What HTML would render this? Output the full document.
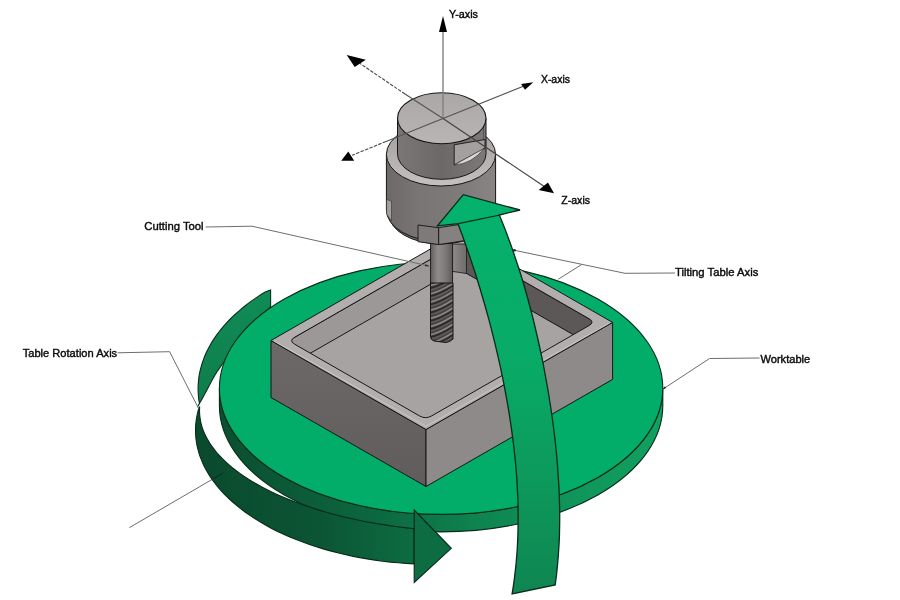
<!DOCTYPE html>
<html><head><meta charset="utf-8"><style>
html,body{margin:0;padding:0;background:#fff;width:900px;height:600px;overflow:hidden}
svg{display:block}
text{font-family:"Liberation Sans",sans-serif;font-size:11px;fill:#0a0a0a;stroke:#0a0a0a;stroke-width:0.4px}
</style></head><body>
<svg width="900" height="600" viewBox="0 0 900 600"><defs>
<linearGradient id="gDiscSide" x1="220" y1="0" x2="662" y2="0" gradientUnits="userSpaceOnUse">
 <stop offset="0" stop-color="#0a4f30"/><stop offset="0.35" stop-color="#0c673e"/><stop offset="0.6" stop-color="#0f8551"/><stop offset="0.8" stop-color="#10955a"/><stop offset="1" stop-color="#11a060"/>
</linearGradient>
<linearGradient id="gBandBack" x1="0" y1="290" x2="0" y2="408" gradientUnits="userSpaceOnUse">
 <stop offset="0" stop-color="#118c56"/><stop offset="1" stop-color="#0e7c4b"/>
</linearGradient>
<linearGradient id="gBandFront" x1="195" y1="0" x2="415" y2="0" gradientUnits="userSpaceOnUse">
 <stop offset="0" stop-color="#0a4a2d"/><stop offset="0.55" stop-color="#0b5434"/><stop offset="1" stop-color="#0d6c41"/>
</linearGradient>
<linearGradient id="gTilt" x1="0" y1="195" x2="0" y2="595" gradientUnits="userSpaceOnUse">
 <stop offset="0" stop-color="#04b26d"/><stop offset="0.4" stop-color="#08ab67"/><stop offset="0.7" stop-color="#0d9a5c"/><stop offset="1" stop-color="#0f8551"/>
</linearGradient>
<linearGradient id="gCyl" x1="386" y1="0" x2="496" y2="0" gradientUnits="userSpaceOnUse">
 <stop offset="0" stop-color="#6c6968"/><stop offset="0.3" stop-color="#787574"/><stop offset="0.7" stop-color="#7e7b7a"/><stop offset="1" stop-color="#888584"/>
</linearGradient>
<linearGradient id="gCapSide" x1="397" y1="0" x2="486" y2="0" gradientUnits="userSpaceOnUse">
 <stop offset="0" stop-color="#7a7776"/><stop offset="0.5" stop-color="#6b6867"/><stop offset="1" stop-color="#7c7978"/>
</linearGradient>
<linearGradient id="gRing" x1="0" y1="122" x2="0" y2="186" gradientUnits="userSpaceOnUse">
 <stop offset="0" stop-color="#9d9a99"/><stop offset="1" stop-color="#c4c1c0"/>
</linearGradient>
<linearGradient id="gCapTop" x1="0" y1="93" x2="0" y2="144" gradientUnits="userSpaceOnUse">
 <stop offset="0" stop-color="#aaa7a6"/><stop offset="1" stop-color="#b8b5b4"/>
</linearGradient>
<linearGradient id="gShank" x1="430" y1="0" x2="453" y2="0" gradientUnits="userSpaceOnUse">
 <stop offset="0" stop-color="#5e5b5a"/><stop offset="0.35" stop-color="#8f8c8b"/><stop offset="0.7" stop-color="#7a7776"/><stop offset="1" stop-color="#5a5756"/>
</linearGradient>
<linearGradient id="gLeftFace" x1="0" y1="340" x2="0" y2="487" gradientUnits="userSpaceOnUse">
 <stop offset="0" stop-color="#6c6968"/><stop offset="1" stop-color="#5f5c5b"/>
</linearGradient>
<clipPath id="cInner"><path d="M294.6,337.3 Q288.6,340.7 294.6,344.2 L419.5,415.9 Q425.6,419.4 431.7,415.9 L589.0,325.6 Q595.0,322.2 589.0,318.7 L464.1,247.0 Q458.0,243.5 451.9,247.0 Z"/></clipPath>
<clipPath id="cFlute"><path d="M430.5,283 L453,283 L453,339 Q450,342 446,342.5 L434,341 Q430.5,340 430.5,336 Z"/></clipPath>
</defs><rect width="900" height="600" fill="#fff"/>
<path d="M270.6,290.0 L265.7,291.7 L261.9,294.0 L258.2,296.4 L254.6,298.9 L251.0,301.4 L247.6,303.9 L244.3,306.5 L241.1,309.1 L238.0,311.8 L235.0,314.5 L232.1,317.2 L229.3,320.0 L226.6,322.8 L224.1,325.7 L221.6,328.6 L219.3,331.5 L217.1,334.4 L215.0,337.4 L213.0,340.4 L211.2,343.4 L209.4,346.5 L207.8,349.5 L206.3,352.6 L204.9,355.8 L203.7,358.9 L202.6,362.0 L201.6,365.2 L200.7,368.4 L199.9,371.5 L199.3,374.7 L198.8,377.9 L198.5,381.1 L198.2,384.4 L198.1,387.6 L198.1,390.8 L198.3,394.0 L198.5,397.2 L198.9,400.4 L199.5,403.6 L197.3,407.0 L197.3,407.0 C198.3,405.3 200.4,402.0 203.3,396.7 C206.2,391.4 211.6,380.8 215.0,375.0 C218.4,369.2 220.5,367.0 224.0,361.7 C227.5,356.4 231.3,349.1 236.0,343.0 C240.7,336.9 246.2,331.0 252.0,325.0 C257.8,319.0 267.5,310.0 270.6,307.0 Z" fill="url(#gBandBack)" stroke="#082d1b" stroke-width="1.1"/>
<polyline points="129.4,527.6 213.4,478.7 222,473.5" fill="none" stroke="#6e6e6e" stroke-width="1"/>
<path d="M219.40000000000003,388.2 L219.40000000000003,405.7 A221.7,126.2 0 0 0 662.8,405.7 L662.8,388.2 A221.7,126.2 0 0 1 219.40000000000003,388.2 Z" fill="url(#gDiscSide)" stroke="#072c1a" stroke-width="1.1"/>
<ellipse cx="441.1" cy="388.2" rx="221.7" ry="126.2" fill="#02ad6a" stroke="#072c1a" stroke-width="1.1"/>
<line x1="558.3" y1="279.2" x2="581.7" y2="264.5" stroke="#6e6e6e" stroke-width="1"/>
<polygon points="271.0,340.5 426.0,429.5 426.0,486.5 271.0,397.5" fill="url(#gLeftFace)" stroke="#161616" stroke-width="1"/>
<polygon points="426.0,429.5 612.6,322.4 612.6,379.4 426.0,486.5" fill="#8e8a89" stroke="#161616" stroke-width="1"/>
<polygon points="271.0,340.5 426.0,429.5 612.6,322.4 457.6,233.4" fill="#b2aead" stroke="#161616" stroke-width="1"/>
<g clip-path="url(#cInner)"><polygon points="288.6,340.7 425.6,419.4 595.0,322.2 458.0,243.5" fill="#a7a3a2"/><polygon points="288.6,340.7 458.0,243.5 458.0,268.5 288.6,365.7" fill="#9c9897" stroke="#161616" stroke-width="1"/><path d="M458.0,249.5 Q458.0,243.5 463.2,246.5 L589.8,319.2 Q595.0,322.2 595.0,328.2 L595.0,341.2 Q595.0,347.2 589.8,344.2 L463.2,271.5 Q458.0,268.5 458.0,262.5 Z" fill="#5c5857" stroke="#161616" stroke-width="1"/></g>
<path d="M294.6,337.3 Q288.6,340.7 294.6,344.2 L419.5,415.9 Q425.6,419.4 431.7,415.9 L589.0,325.6 Q595.0,322.2 589.0,318.7 L464.1,247.0 Q458.0,243.5 451.9,247.0 Z" fill="none" stroke="#161616" stroke-width="1"/>
<polyline points="274.0,341.0 426.0,426.3 609.6,322.9" fill="none" stroke="#c9c6c5" stroke-width="1"/>
<linearGradient id="gFil" x1="452" y1="0" x2="467" y2="0" gradientUnits="userSpaceOnUse"><stop offset="0" stop-color="#8e8b8a"/><stop offset="1" stop-color="#6d6a69"/></linearGradient>
<polygon points="450,244 466.5,244 466.5,273.5 450,271" fill="url(#gFil)" stroke="#161616" stroke-width="0.8"/>
<rect x="430.6" y="240" width="22" height="44" fill="url(#gShank)" stroke="#161616" stroke-width="0.9"/>
<g clip-path="url(#cFlute)"><rect x="428" y="280" width="28" height="66" fill="#444141"/><path d="M429,285.8 C436,284.8 446,279.8 455,273.8" stroke="#8a8786" stroke-width="1.7" fill="none"/><path d="M429,288.3 C436,287.3 446,282.3 455,276.3" stroke="#2a2727" stroke-width="1.3" fill="none"/><path d="M429,290.3 C436,289.3 446,284.3 455,278.3" stroke="#5f5c5b" stroke-width="1.6" fill="none"/><path d="M429,294.0 C436,293.0 446,288.0 455,282.0" stroke="#8a8786" stroke-width="1.7" fill="none"/><path d="M429,296.5 C436,295.5 446,290.5 455,284.5" stroke="#2a2727" stroke-width="1.3" fill="none"/><path d="M429,298.5 C436,297.5 446,292.5 455,286.5" stroke="#5f5c5b" stroke-width="1.6" fill="none"/><path d="M429,302.2 C436,301.2 446,296.2 455,290.2" stroke="#8a8786" stroke-width="1.7" fill="none"/><path d="M429,304.7 C436,303.7 446,298.7 455,292.7" stroke="#2a2727" stroke-width="1.3" fill="none"/><path d="M429,306.7 C436,305.7 446,300.7 455,294.7" stroke="#5f5c5b" stroke-width="1.6" fill="none"/><path d="M429,310.4 C436,309.4 446,304.4 455,298.4" stroke="#8a8786" stroke-width="1.7" fill="none"/><path d="M429,312.9 C436,311.9 446,306.9 455,300.9" stroke="#2a2727" stroke-width="1.3" fill="none"/><path d="M429,314.9 C436,313.9 446,308.9 455,302.9" stroke="#5f5c5b" stroke-width="1.6" fill="none"/><path d="M429,318.6 C436,317.6 446,312.6 455,306.6" stroke="#8a8786" stroke-width="1.7" fill="none"/><path d="M429,321.1 C436,320.1 446,315.1 455,309.1" stroke="#2a2727" stroke-width="1.3" fill="none"/><path d="M429,323.1 C436,322.1 446,317.1 455,311.1" stroke="#5f5c5b" stroke-width="1.6" fill="none"/><path d="M429,326.8 C436,325.8 446,320.8 455,314.8" stroke="#8a8786" stroke-width="1.7" fill="none"/><path d="M429,329.3 C436,328.3 446,323.3 455,317.3" stroke="#2a2727" stroke-width="1.3" fill="none"/><path d="M429,331.3 C436,330.3 446,325.3 455,319.3" stroke="#5f5c5b" stroke-width="1.6" fill="none"/><path d="M429,335.0 C436,334.0 446,329.0 455,323.0" stroke="#8a8786" stroke-width="1.7" fill="none"/><path d="M429,337.5 C436,336.5 446,331.5 455,325.5" stroke="#2a2727" stroke-width="1.3" fill="none"/><path d="M429,339.5 C436,338.5 446,333.5 455,327.5" stroke="#5f5c5b" stroke-width="1.6" fill="none"/><path d="M429,343.2 C436,342.2 446,337.2 455,331.2" stroke="#8a8786" stroke-width="1.7" fill="none"/><path d="M429,345.7 C436,344.7 446,339.7 455,333.7" stroke="#2a2727" stroke-width="1.3" fill="none"/><path d="M429,347.7 C436,346.7 446,341.7 455,335.7" stroke="#5f5c5b" stroke-width="1.6" fill="none"/><path d="M429,351.4 C436,350.4 446,345.4 455,339.4" stroke="#8a8786" stroke-width="1.7" fill="none"/><path d="M429,353.9 C436,352.9 446,347.9 455,341.9" stroke="#2a2727" stroke-width="1.3" fill="none"/><path d="M429,355.9 C436,354.9 446,349.9 455,343.9" stroke="#5f5c5b" stroke-width="1.6" fill="none"/><path d="M429,359.6 C436,358.6 446,353.6 455,347.6" stroke="#8a8786" stroke-width="1.7" fill="none"/><path d="M429,362.1 C436,361.1 446,356.1 455,350.1" stroke="#2a2727" stroke-width="1.3" fill="none"/><path d="M429,364.1 C436,363.1 446,358.1 455,352.1" stroke="#5f5c5b" stroke-width="1.6" fill="none"/></g>
<path d="M430.5,283 L453,283 L453,339 Q450,342 446,342.5 L434,341 Q430.5,340 430.5,336 Z" fill="none" stroke="#161616" stroke-width="1"/>
<path d="M389,214 A52,30 0 0 0 493,214 L493,205 L389,205 Z" fill="#6f6c6b" stroke="#161616" stroke-width="1"/>
<path d="M386.4,154.4 L386.4,210 A54.6,31.6 0 0 0 495.6,210 L495.6,154.4 Z" fill="url(#gCyl)" stroke="#161616" stroke-width="1"/>
<polygon points="386.6,199.5 391.5,201 391.5,221 386.6,214" fill="#a19e9d" stroke="#333" stroke-width="0.6"/>
<polygon points="418,225 438.7,227.7 438.7,244.6 418,241.7" fill="#7d7a79" stroke="#161616" stroke-width="0.9"/>
<polygon points="438.7,227.7 475,222 475,239 438.7,244.6" fill="#858180" stroke="#161616" stroke-width="0.9"/>
<ellipse cx="441" cy="154.4" rx="54.6" ry="31.6" fill="url(#gRing)" stroke="#161616" stroke-width="1"/>
<path d="M397.5,118.2 L397.5,153.8 A44.25,25.5 0 0 0 486,153.8 L486,118.2 Z" fill="url(#gCapSide)" stroke="#161616" stroke-width="1"/>
<line x1="483.5" y1="122" x2="483.5" y2="147" stroke="#444" stroke-width="0.7"/>
<polygon points="454.2,144.8 485,139.5 485,148.3 454.2,165" fill="#a3a09f" stroke="#161616" stroke-width="0.9"/>
<path d="M454.2,165 L484.2,148.3 Q472,164 454.2,165 Z" fill="#dcdad9" stroke="#333" stroke-width="0.7"/>
<ellipse cx="441.75" cy="118.2" rx="44.25" ry="25.5" fill="url(#gCapTop)" stroke="#161616" stroke-width="1.1"/>
<path d="M199.1,407.2 L197.9,411.6 L196.9,416.0 L196.2,420.4 L195.7,424.8 L195.5,429.3 L195.6,433.7 L195.9,438.1 L196.5,442.6 L197.3,447.0 L198.5,451.4 L199.8,455.8 L201.5,460.1 L203.3,464.4 L205.5,468.7 L207.9,472.9 L210.5,477.1 L213.4,481.2 L216.6,485.3 L219.9,489.3 L223.5,493.3 L227.4,497.2 L231.5,501.0 L235.7,504.7 L240.3,508.4 L245.0,512.0 L249.9,515.4 L255.1,518.8 L260.4,522.1 L265.9,525.3 L271.6,528.4 L277.5,531.4 L283.6,534.2 L289.8,537.0 L296.2,539.6 L302.8,542.1 L309.5,544.5 L316.3,546.8 L323.3,548.9 L330.3,550.9 L337.5,552.8 L344.8,554.5 L352.2,556.1 L359.7,557.6 L367.3,558.9 L375.0,560.1 L382.7,561.2 L390.5,562.1 L398.3,562.8 L406.2,563.4 L414.1,563.9 L414.1,528.8 L406.7,527.9 L399.4,527.0 L392.1,526.0 L384.8,524.9 L377.7,523.8 L370.6,522.5 L363.6,521.2 L356.7,519.8 L349.9,518.3 L343.1,516.7 L336.5,515.0 L330.0,513.3 L323.6,511.5 L317.3,509.6 L311.1,507.6 L305.1,505.6 L299.2,503.5 L293.4,501.3 L287.8,499.1 L282.3,496.8 L276.9,494.4 L271.7,492.0 L266.7,489.5 L261.8,486.9 L257.1,484.3 L252.5,481.7 L248.1,479.0 L243.9,476.2 L239.9,473.4 L236.0,470.5 L232.3,467.6 L228.8,464.7 L225.5,461.7 L222.4,458.7 L219.5,455.6 L216.7,452.5 L214.2,449.4 L211.8,446.2 L209.7,443.1 L207.8,439.9 L206.0,436.6 L204.5,433.4 L203.1,430.1 L202.0,426.9 L201.1,423.6 L200.4,420.3 L199.9,417.0 L199.6,413.7 L199.5,410.3 L199.6,407.0 Z" fill="url(#gBandFront)" stroke="#072a19" stroke-width="1.1"/>
<polygon points="414.2,510 451.3,548.3 414.2,582.5" fill="#0d6c41" stroke="#072a19" stroke-width="1.1"/>
<path d="M458.0,223.7 L460.2,229.7 L462.5,235.7 L464.6,241.7 L466.7,247.7 L468.8,253.7 L470.8,259.7 L472.8,265.7 L474.8,271.7 L476.7,277.7 L478.5,283.7 L480.4,289.7 L482.1,295.7 L483.9,301.7 L485.6,307.7 L487.3,313.7 L488.9,319.7 L490.5,325.7 L492.0,331.7 L493.5,337.7 L495.0,343.7 L496.4,349.7 L497.8,355.7 L499.2,361.7 L500.5,367.7 L501.8,373.7 L503.0,379.7 L504.2,385.7 L505.3,391.7 L506.4,397.7 L507.5,403.7 L508.5,409.7 L509.5,415.7 L510.4,421.7 L511.3,427.7 L512.1,433.7 L512.9,439.7 L513.7,445.7 L514.3,451.7 L515.0,457.7 L515.6,463.7 L516.1,469.7 L516.6,475.7 L517.0,481.7 L517.3,487.7 L517.6,493.7 L517.9,499.7 L518.0,505.7 L518.1,511.7 L518.2,517.7 L518.1,523.7 L518.0,529.7 L517.9,535.7 L517.6,541.7 L517.3,547.7 L516.9,553.7 L516.4,559.7 L515.9,565.7 L515.2,571.7 L514.5,577.7 L513.7,583.7 L512.8,589.7 L512.1,594.0 L555.2,585.0 L555.7,581.0 L556.5,575.0 L557.1,569.0 L557.7,563.0 L558.2,557.0 L558.6,551.0 L559.0,545.0 L559.3,539.0 L559.5,533.0 L559.6,527.0 L559.7,521.0 L559.7,515.0 L559.6,509.0 L559.5,503.0 L559.3,497.0 L559.1,491.0 L558.8,485.0 L558.4,479.0 L558.0,473.0 L557.6,467.0 L557.1,461.0 L556.6,455.0 L556.0,449.0 L555.4,443.0 L554.7,437.0 L554.0,431.0 L553.2,425.0 L552.4,419.0 L551.5,413.0 L550.7,407.0 L549.7,401.0 L548.8,395.0 L547.8,389.0 L546.7,383.0 L545.6,377.0 L544.5,371.0 L543.4,365.0 L542.2,359.0 L540.9,353.0 L539.6,347.0 L538.3,341.0 L536.9,335.0 L535.5,329.0 L534.1,323.0 L532.6,317.0 L531.1,311.0 L529.5,305.0 L527.9,299.0 L526.2,293.0 L524.5,287.0 L522.7,281.0 L520.9,275.0 L519.0,269.0 L517.0,263.0 L515.0,257.0 L513.0,251.0 L510.9,245.0 L508.7,239.0 L506.5,233.0 L504.2,227.0 L501.8,221.0 L499.3,215.0 L520,210 L463.3,194.7 L437.5,225.8 Z" fill="url(#gTilt)" stroke="#072a19" stroke-width="1.3" stroke-linejoin="miter"/>
<line x1="458.3" y1="223.7" x2="500" y2="215" stroke="#072a19" stroke-width="1.2"/>
<line x1="443" y1="118.5" x2="443" y2="30" stroke="#808080" stroke-width="1.4"/>
<polygon points="443.0,16.0 439.0,32.0 447.0,32.0" fill="#000"/>
<line x1="443" y1="118.5" x2="524" y2="86" stroke="#555" stroke-width="1.2"/>
<polygon points="533.3,82.2 521.1,83.9 525.0,89.8" fill="#000"/>
<line x1="443" y1="118.5" x2="386" y2="141.5" stroke="#555" stroke-width="1.2"/>
<line x1="386" y1="141.5" x2="352" y2="155.3" stroke="#4a4a4a" stroke-width="1.1" stroke-dasharray="3.5,1.3"/>
<polygon points="341.2,160.7 348.3,151.5 354.2,160.7" fill="#000"/>
<line x1="443" y1="118.5" x2="545" y2="187" stroke="#444" stroke-width="1.2"/>
<polygon points="554.0,193.3 538.7,190.0 548.0,182.4" fill="#000"/>
<line x1="443" y1="118.5" x2="405" y2="94" stroke="#555" stroke-width="1.2"/>
<line x1="405" y1="94" x2="360" y2="63.5" stroke="#4a4a4a" stroke-width="1.1" stroke-dasharray="3.5,1.3"/>
<polygon points="346.7,55.0 365.8,59.7 354.7,67.0" fill="#000"/>
<polyline points="205.7,227 252,226.2 429,266" fill="none" stroke="#6e6e6e" stroke-width="1"/>
<polyline points="117.5,352.8 169.6,351.7 198.7,408.7" fill="none" stroke="#6e6e6e" stroke-width="1"/>
<polyline points="675,273 625,273.3 513,250" fill="none" stroke="#6e6e6e" stroke-width="1"/>
<polyline points="759.6,358 709.5,358.5 662.3,389.5" fill="none" stroke="#6e6e6e" stroke-width="1"/>
<line x1="213.4" y1="478.7" x2="223" y2="473" stroke="#0a2a1a" stroke-width="1"/>
<polygon points="429.5,266.3 425.5,264.2 425,266.3" fill="#222"/>
<circle cx="514.5" cy="250.3" r="1.3" fill="#222"/>
<polygon points="662.3,389.5 665,386.2 666,388.2" fill="#222"/>
<g style="filter:grayscale(1)">
<text x="449" y="17.5" textLength="29" lengthAdjust="spacingAndGlyphs">Y-axis</text>
<text x="540.9" y="82.8" textLength="29.1" lengthAdjust="spacingAndGlyphs">X-axis</text>
<text x="561.3" y="204" textLength="28.7" lengthAdjust="spacingAndGlyphs">Z-axis</text>
<text x="144.3" y="229.9" textLength="59.3" lengthAdjust="spacingAndGlyphs">Cutting Tool</text>
<text x="675" y="276" textLength="83.3" lengthAdjust="spacingAndGlyphs">Tilting Table Axis</text>
<text x="22.7" y="357.3" textLength="94.5" lengthAdjust="spacingAndGlyphs">Table Rotation Axis</text>
<text x="760.5" y="362.7" textLength="49.7" lengthAdjust="spacingAndGlyphs">Worktable</text>
</g></svg>
</body></html>
